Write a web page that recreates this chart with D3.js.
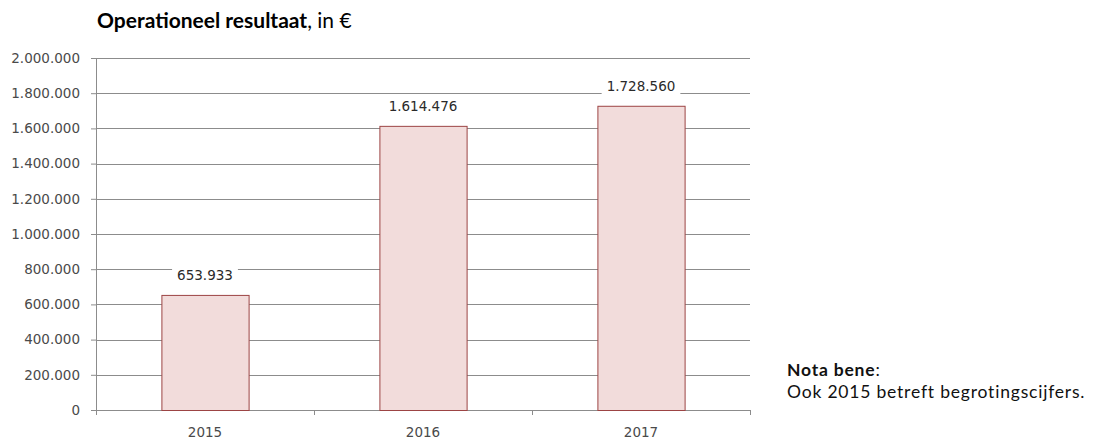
<!DOCTYPE html>
<html>
<head>
<meta charset="utf-8">
<script src="https://cdn.jsdelivr.net/npm/d3@7"></script>
<style>
  body { margin: 0; background: #fff; }
</style>
</head>
<body>
<div id="root"></div>
<script>
// data
const years = ["2015", "2016", "2017"];
const values = [653933, 1614476, 1728560];
const yTicks = [0, 200000, 400000, 600000, 800000, 1000000, 1200000, 1400000, 1600000, 1800000, 2000000];

const W = 1101, H = 441;
const margin = { top: 58, right: 351, bottom: 31, left: 96 };
const width = W - margin.left - margin.right,
  height = H - margin.top - margin.bottom;

const fmt = n => d3.format(",")(n).replace(/,/g, ".");
const tickFont = "DejaVu Sans, sans-serif";
const textFont = "Lato, Open Sans, sans-serif";

const svg = d3.select("#root").append("svg")
  .attr("width", W).attr("height", H);

const g = svg.append("g")
  .attr("transform", `translate(${margin.left},${margin.top})`);

const x = d3.scaleBand().domain(years).range([0, width]).paddingInner(0.6).paddingOuter(0.3);
const y = d3.scaleLinear().domain([0, 2000000]).range([height, 0]);

// gridlines
g.append("g")
  .selectAll("line")
  .data(yTicks.slice(1))
  .join("line")
  .attr("x1", 0).attr("x2", width)
  .attr("y1", d => Math.round(y(d)) + 0.5).attr("y2", d => Math.round(y(d)) + 0.5)
  .attr("stroke", "#8c8c8c").attr("stroke-width", 1);

// y axis
const yAxis = g.append("g")
  .call(d3.axisLeft(y).tickValues(yTicks).tickFormat(fmt).tickSize(5).tickPadding(11));
yAxis.select(".domain").attr("stroke", "#8c8c8c");
yAxis.selectAll(".tick line").attr("stroke", "#8c8c8c");
yAxis.selectAll("text")
  .attr("font-family", tickFont).attr("font-size", 13.5).attr("fill", "#4a4a4a");

// x axis
const xBoundaries = d3.scalePoint().domain(d3.range(4)).range([0, width]);
const xAxis = g.append("g").attr("transform", `translate(0,${height})`);
xAxis.append("line").attr("x1", 0).attr("x2", width)
  .attr("y1", 0.5).attr("y2", 0.5).attr("stroke", "#8c8c8c");
xAxis.selectAll(".xt").data(d3.range(4)).join("line")
  .attr("x1", d => Math.round(xBoundaries(d)) + 0.5).attr("x2", d => Math.round(xBoundaries(d)) + 0.5)
  .attr("y1", 0).attr("y2", 5).attr("stroke", "#8c8c8c");
xAxis.selectAll("text").data(years).join("text")
  .attr("x", d => x(d) + x.bandwidth() / 2).attr("y", 27)
  .attr("text-anchor", "middle")
  .attr("font-family", tickFont).attr("font-size", 13.5).attr("fill", "#4a4a4a")
  .text(d => d);

// bars
g.selectAll(".bar").data(values).join("rect")
  .attr("class", "bar")
  .attr("x", (d, i) => x(years[i]) + 0.5)
  .attr("y", d => y(d) + 0.5)
  .attr("width", x.bandwidth())
  .attr("height", d => height - y(d))
  .attr("fill", "#f2dcdb")
  .attr("stroke", "#9c4444").attr("stroke-width", 1);

// value labels with white background
const lab = g.selectAll(".lab").data(values).join("g")
  .attr("transform", (d, i) => `translate(${x(years[i]) + x.bandwidth() / 2},${y(d) - 15})`);
const bg = lab.append("rect").attr("fill", "#fff");
const lt = lab.append("text")
  .attr("text-anchor", "middle")
  .attr("font-family", tickFont).attr("font-size", 13.5).attr("fill", "#2a2a2a")
  .text(fmt);
lt.each(function () {
  const w = this.getComputedTextLength();
  d3.select(this.previousSibling)
    .attr("x", -w / 2 - 5).attr("y", -16).attr("width", w + 10).attr("height", 22);
});

// title
const title = svg.append("text")
  .attr("x", 97).attr("y", 28)
  .attr("font-family", textFont).attr("font-size", 21).attr("fill", "#000");
title.append("tspan").attr("font-weight", "bold").text("Operationeel resultaat");
title.append("tspan").text(", in €");

// note
const note = svg.append("g").attr("font-family", textFont).attr("font-size", 17.5)
  .attr("letter-spacing", 0.8).attr("fill", "#111");
const n1 = note.append("text").attr("x", 787).attr("y", 376);
n1.append("tspan").attr("font-weight", "bold").text("Nota bene");
n1.append("tspan").text(":");
note.append("text").attr("x", 787).attr("y", 398).text("Ook 2015 betreft begrotingscijfers.");
</script>
</body>
</html>
